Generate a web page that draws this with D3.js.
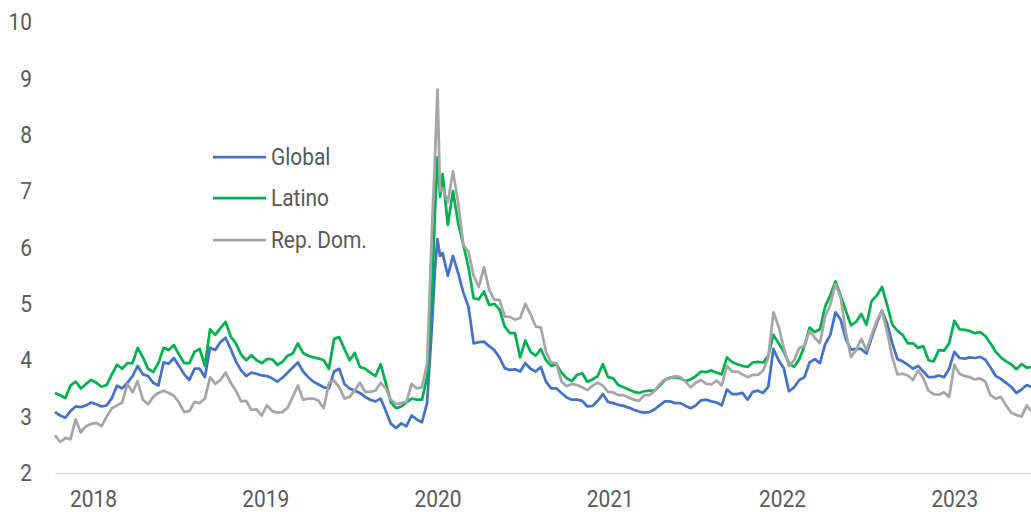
<!DOCTYPE html>
<html>
<head>
<meta charset="utf-8">
<script src="https://cdn.jsdelivr.net/npm/d3@7"></script>
<style>
  html, body { margin: 0; padding: 0; background: #fff; }
  svg { display: block; }
  text { font-family: Roboto, "Noto Sans", sans-serif; }
</style>
</head>
<body>
<svg id="chart" width="1031" height="512"></svg>
<script>
// ---- Data (x in decimal years) ----
const dates = [
  2018.00,2018.03,2018.06,2018.09,2018.12,2018.15,2018.18,2018.21,2018.24,2018.27,
  2018.30,2018.33,2018.36,2018.39,2018.42,2018.45,2018.48,2018.51,2018.54,2018.57,
  2018.60,2018.63,2018.66,2018.69,2018.72,2018.75,2018.78,2018.81,2018.84,2018.87,
  2018.90,2018.93,2018.96,2018.99,2019.02,2019.05,2019.08,2019.11,2019.14,2019.17,
  2019.20,2019.23,2019.26,2019.29,2019.32,2019.35,2019.38,2019.41,2019.44,2019.47,
  2019.50,2019.53,2019.56,2019.59,2019.62,2019.65,2019.68,2019.71,2019.74,2019.77,
  2019.80,2019.83,2019.86,2019.89,2019.92,2019.95,2019.98,2020.01,2020.04,2020.07,
  2020.10,2020.13,2020.16,2020.19,2020.205,2020.22,2020.235,2020.25,2020.28,2020.31,
  2020.34,2020.37,2020.40,2020.43,2020.46,2020.49,2020.52,2020.55,2020.58,2020.61,
  2020.64,2020.67,2020.70,2020.73,2020.76,2020.79,2020.82,2020.85,2020.88,2020.91,
  2020.94,2020.97,2021.00,2021.03,2021.06,2021.09,2021.12,2021.15,2021.18,2021.21,
  2021.24,2021.27,2021.30,2021.33,2021.36,2021.39,2021.42,2021.45,2021.48,2021.51,
  2021.54,2021.57,2021.60,2021.63,2021.66,2021.69,2021.72,2021.75,2021.78,2021.81,
  2021.84,2021.87,2021.90,2021.93,2021.96,2021.99,2022.02,2022.05,2022.08,2022.11,
  2022.14,2022.17,2022.20,2022.23,2022.26,2022.29,2022.32,2022.35,2022.38,2022.41,
  2022.44,2022.47,2022.50,2022.53,2022.56,2022.59,2022.62,2022.65,2022.68,2022.71,
  2022.74,2022.77,2022.80,2022.83,2022.86,2022.89,2022.92,2022.95,2022.98,2023.01,
  2023.04,2023.07,2023.10,2023.13,2023.16,2023.19,2023.22,2023.25,2023.28,2023.31,
  2023.34,2023.37,2023.40,2023.43,2023.46,2023.49,2023.52,2023.55,2023.58,2023.61,
  2023.64,2023.665
];

const globalValues = [
  3.08,3.02,2.98,3.10,3.18,3.17,3.20,3.25,3.22,3.18,
  3.20,3.33,3.55,3.50,3.60,3.72,3.90,3.75,3.72,3.60,
  3.55,3.96,3.94,4.04,3.90,3.75,3.65,3.85,3.85,3.70,
  4.22,4.18,4.32,4.40,4.20,3.98,3.82,3.72,3.78,3.76,
  3.73,3.72,3.68,3.62,3.69,3.78,3.87,3.96,3.80,3.70,
  3.62,3.57,3.52,3.50,3.80,3.85,3.58,3.50,3.46,3.42,
  3.35,3.30,3.27,3.32,3.10,2.87,2.80,2.88,2.83,3.02,
  2.95,2.90,3.25,4.70,5.60,6.15,5.85,5.90,5.50,5.85,
  5.55,5.20,4.95,4.30,4.32,4.33,4.25,4.18,4.05,3.86,
  3.83,3.84,3.80,3.95,3.85,3.80,3.88,3.62,3.50,3.50,
  3.42,3.34,3.30,3.30,3.28,3.18,3.19,3.28,3.40,3.26,
  3.24,3.21,3.19,3.16,3.12,3.09,3.07,3.08,3.13,3.20,
  3.27,3.27,3.24,3.24,3.19,3.15,3.20,3.29,3.30,3.27,
  3.25,3.20,3.48,3.40,3.40,3.42,3.30,3.44,3.46,3.42,
  3.53,4.20,4.00,3.86,3.45,3.52,3.65,3.70,3.96,4.02,
  3.95,4.28,4.45,4.85,4.72,4.38,4.19,4.20,4.20,4.12,
  4.40,4.66,4.88,4.65,4.30,4.02,3.98,3.92,3.85,3.90,
  3.80,3.70,3.70,3.73,3.70,3.85,4.15,4.04,4.03,4.05,
  4.04,4.06,4.01,3.87,3.72,3.67,3.60,3.53,3.42,3.48,
  3.56,3.53
];

const latinoValues = [
  3.42,3.38,3.33,3.55,3.62,3.50,3.58,3.65,3.60,3.53,
  3.56,3.75,3.92,3.85,3.95,3.95,4.22,4.05,3.85,3.79,
  3.95,4.22,4.18,4.27,4.10,3.95,3.95,4.15,4.20,3.90,
  4.55,4.45,4.57,4.68,4.42,4.30,4.10,4.00,4.09,4.00,
  3.95,4.02,4.02,3.92,3.97,4.08,4.12,4.30,4.13,4.08,
  4.05,4.03,4.00,3.85,4.38,4.41,4.20,4.00,4.13,3.88,
  3.85,3.78,3.72,3.93,3.60,3.25,3.15,3.18,3.25,3.32,
  3.30,3.30,3.70,5.30,6.60,7.60,6.90,7.30,6.40,7.00,
  6.43,6.05,5.65,5.10,5.08,5.22,4.98,5.00,4.90,4.60,
  4.48,4.48,4.05,4.35,4.15,4.08,4.20,4.00,3.90,3.93,
  3.78,3.68,3.63,3.74,3.77,3.62,3.66,3.72,3.93,3.70,
  3.68,3.56,3.52,3.48,3.44,3.42,3.45,3.46,3.46,3.55,
  3.65,3.69,3.70,3.68,3.63,3.66,3.72,3.80,3.79,3.82,
  3.78,3.75,4.05,3.97,3.93,3.90,3.88,3.96,3.97,3.96,
  4.08,4.45,4.30,4.15,3.95,3.88,4.02,4.25,4.58,4.50,
  4.55,4.95,5.15,5.40,5.15,4.88,4.62,4.68,4.82,4.63,
  5.05,5.15,5.30,4.98,4.63,4.52,4.45,4.30,4.30,4.22,
  4.25,4.00,3.98,4.18,4.17,4.30,4.70,4.55,4.54,4.52,
  4.48,4.50,4.43,4.30,4.15,4.05,3.98,3.93,3.84,3.93,
  3.87,3.88
];

const repDomValues = [
  2.67,2.55,2.62,2.60,2.95,2.72,2.83,2.87,2.89,2.83,
  3.00,3.15,3.20,3.25,3.58,3.43,3.63,3.30,3.22,3.35,
  3.42,3.46,3.42,3.37,3.25,3.08,3.10,3.26,3.24,3.32,
  3.70,3.58,3.65,3.78,3.60,3.46,3.27,3.28,3.12,3.13,
  3.02,3.20,3.10,3.07,3.08,3.16,3.35,3.55,3.30,3.32,
  3.32,3.28,3.15,3.60,3.64,3.52,3.32,3.35,3.47,3.60,
  3.44,3.44,3.46,3.60,3.50,3.30,3.22,3.24,3.26,3.58,
  3.50,3.52,3.95,6.50,7.55,8.80,7.00,7.05,6.80,7.35,
  6.80,6.05,5.92,5.50,5.30,5.65,5.25,5.07,5.07,4.78,
  4.77,4.72,4.75,5.00,4.82,4.60,4.58,4.15,3.96,3.95,
  3.62,3.54,3.58,3.56,3.52,3.47,3.55,3.60,3.55,3.44,
  3.43,3.38,3.38,3.34,3.30,3.28,3.38,3.38,3.45,3.58,
  3.66,3.68,3.72,3.70,3.62,3.52,3.60,3.65,3.58,3.57,
  3.64,3.55,3.90,3.80,3.80,3.75,3.70,3.74,3.74,3.82,
  4.05,4.85,4.60,4.22,3.90,4.00,4.22,4.25,4.52,4.40,
  4.30,4.78,4.98,5.35,5.12,4.50,4.06,4.18,4.38,4.18,
  4.45,4.70,4.88,4.50,4.05,3.75,3.76,3.73,3.65,3.82,
  3.68,3.46,3.40,3.39,3.43,3.35,3.92,3.76,3.72,3.70,
  3.66,3.68,3.62,3.38,3.32,3.35,3.20,3.07,3.03,3.00,
  3.20,3.10
];

const seriesNames = ["Global", "Latino", "Rep. Dom."];
const seriesColors = ["#4472C4", "#00B050", "#A6A6A6"];
const yTicks = [2, 3, 4, 5, 6, 7, 8, 9, 10];
const xTickPositions = [2018.22, 2019.22, 2020.22, 2021.22, 2022.22, 2023.22];
const xTickLabels = ["2018", "2019", "2020", "2021", "2022", "2023"];

// ---- Chart ----
const svg = d3.select("#chart");
const x = d3.scaleLinear().domain([2018.0, 2023.665]).range([55, 1031]);
const y = d3.scaleLinear().domain([2, 10]).range([473, 22]);
const textColor = "#595959";
const fontSize = "24px";
const narrow = "scale(0.87,1)";

// y axis labels
const yAxis = svg.append("g")
  .attr("transform", "translate(32,0)")
  .call(d3.axisLeft(y).tickValues(yTicks).tickSize(0).tickPadding(0).tickFormat(d3.format("d")));
yAxis.select(".domain").remove();
yAxis.selectAll("text").attr("fill", textColor).style("font-size", fontSize)
  .style("font-family", "Roboto, 'Noto Sans', sans-serif")
  .attr("transform", narrow);

// x axis
const xAxis = svg.append("g")
  .attr("transform", "translate(0,473)")
  .call(d3.axisBottom(x).tickValues(xTickPositions).tickSize(0).tickSizeOuter(0).tickPadding(17)
    .tickFormat((d, i) => xTickLabels[i]));
xAxis.select(".domain").attr("stroke", "#D9D9D9").attr("stroke-width", 1.3);
xAxis.selectAll("text").attr("fill", textColor).style("font-size", fontSize)
  .style("font-family", "Roboto, 'Noto Sans', sans-serif")
  .attr("transform", narrow);

// lines
const allValues = [globalValues, latinoValues, repDomValues];
const line = d3.line().x((d, i) => x(dates[i])).y(d => y(d)).curve(d3.curveLinear);
allValues.forEach((vals, s) => {
  svg.append("path")
    .datum(vals)
    .attr("fill", "none")
    .attr("stroke", seriesColors[s])
    .attr("stroke-width", 2.75)
    .attr("stroke-linejoin", "round")
    .attr("d", line);
});

// legend
const legendY = [157, 198, 240];
const legend = svg.append("g");
seriesNames.forEach((name, i) => {
  legend.append("line")
    .attr("x1", 213).attr("x2", 266)
    .attr("y1", legendY[i]).attr("y2", legendY[i])
    .attr("stroke", seriesColors[i]).attr("stroke-width", 2.75);
  legend.append("g")
    .attr("transform", `translate(271,${legendY[i]})`)
    .append("text")
    .attr("transform", narrow)
    .attr("dy", "0.35em")
    .attr("fill", textColor)
    .style("font-size", fontSize)
    .text(name);
});
</script>
</body>
</html>
